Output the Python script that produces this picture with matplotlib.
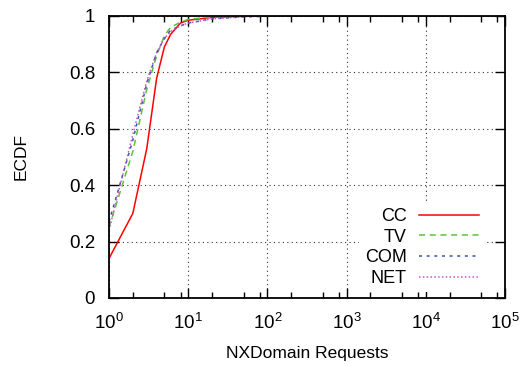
import matplotlib
matplotlib.use("Agg")
import matplotlib.pyplot as plt
from matplotlib.ticker import LogLocator, NullFormatter

plt.rcParams['font.family'] = ['Liberation Sans', 'DejaVu Sans']
plt.rcParams['mathtext.fontset'] = 'custom'
plt.rcParams['mathtext.rm'] = 'Liberation Sans'
plt.rcParams['mathtext.it'] = 'Liberation Sans'
plt.rcParams['font.size'] = 13

# ECDF of NXDomain requests per TLD group
cc_x = [1, 2, 3, 4, 5, 6, 8, 10, 20, 50, 100, 1e5]
cc_y = [0.14, 0.30, 0.53, 0.78, 0.89, 0.935, 0.975, 0.985, 0.995, 0.999, 1.0, 1.0]

tv_x = [1, 2, 3, 4, 5, 6, 8, 10, 20, 50, 100, 1e5]
tv_y = [0.25, 0.52, 0.74, 0.86, 0.93, 0.96, 0.978, 0.988, 0.997, 0.999, 1.0, 1.0]

com_x = [1, 2, 3, 4, 5, 6, 8, 10, 20, 50, 100, 1000, 1e5]
com_y = [0.27, 0.56, 0.76, 0.87, 0.92, 0.95, 0.965, 0.975, 0.99, 0.997, 0.999, 1.0, 1.0]

net_x = [1, 2, 3, 4, 5, 6, 8, 10, 20, 50, 100, 1e5]
net_y = [0.24, 0.58, 0.77, 0.87, 0.92, 0.945, 0.965, 0.975, 0.99, 0.997, 1.0, 1.0]

fig = plt.figure(figsize=(5.26, 3.66), dpi=100)
ax = fig.add_axes([0.2072, 0.1858, 0.7529, 0.7705])

ax.plot(cc_x, cc_y, color='#ff0000', lw=1.1, label='CC')
ax.plot(tv_x, tv_y, color='#5cc23a', lw=1.1, ls=(0, (4, 3)), label='TV')
ax.plot(com_x, com_y, color='#3355bb', lw=1.1, ls=(0, (2, 3)), label='COM')
ax.plot(net_x, net_y, color='#cc55bb', lw=1.1, ls=(0, (1, 1.5)), label='NET')

ax.set_xscale('log')
ax.set_xlim(1, 1e5)
ax.set_ylim(0, 1)
ax.set_yticks([0, 0.2, 0.4, 0.6, 0.8, 1])
ax.set_yticklabels(['0', '0.2', '0.4', '0.6', '0.8', '1'])
ax.xaxis.set_minor_locator(LogLocator(base=10, subs=(2, 5, 8), numticks=20))
ax.xaxis.set_minor_formatter(NullFormatter())

ax.tick_params(which='both', direction='in', top=True, right=True, labelsize=13.5, width=1.0)
ax.tick_params(which='major', length=7)
ax.tick_params(which='minor', length=4)
ax.tick_params(axis='x', which='major', pad=11)
ax.tick_params(axis='y', which='major', pad=10)
for s in ax.spines.values():
    s.set_linewidth(1.3)

ax.grid(True, which='major', ls=(0, (1, 3)), color='#333333', lw=0.8)

ax.set_xlabel('NXDomain Requests', fontsize=12.5, labelpad=9)
ax.set_ylabel('ECDF', fontsize=12.5, labelpad=29)

leg = ax.legend(loc='lower right', bbox_to_anchor=(0.948, 0.02), markerfirst=False,
                handlelength=3.3, handletextpad=0.7, labelspacing=0.2,
                borderpad=0.3, borderaxespad=0, fontsize=13,
                frameon=True, fancybox=False)
leg.get_frame().set_facecolor('white')
leg.get_frame().set_edgecolor('none')
leg.get_frame().set_alpha(1)
for t in leg.get_texts():
    t.set_ha('right')

fig.savefig('out.png', dpi=100)
